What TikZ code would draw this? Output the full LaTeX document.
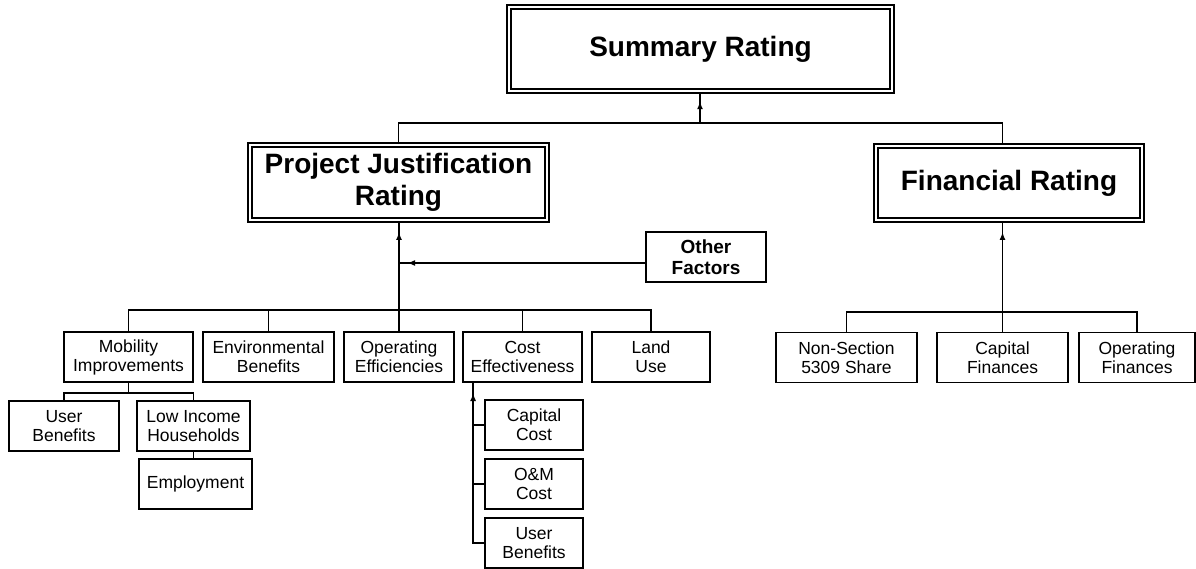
\documentclass[tikz,border=0pt]{standalone}
\usepackage{fontspec}
\setmainfont{Liberation Sans}
\usetikzlibrary{arrows.meta,decorations.markings}

\tikzset{
  rating/.style={draw, double, line width=1.8pt, double distance=2.4pt, align=center,
    inner sep=0pt, font=\fontsize{28}{32}\selectfont\bfseries},
  leaf/.style={draw, line width=1.8pt, align=center, inner sep=0pt, minimum height=50pt,
    font=\fontsize{17.5}{19}\selectfont},
  link/.style={line width=1.8pt},
  tipat/.style={postaction={decorate, decoration={markings,
    mark=at position #1 with {\arrow{Latex[length=8pt,width=6pt]}}}}},
}

\begin{document}
\begin{tikzpicture}[x=1pt, y=-1pt]
  \useasboundingbox (0,0) rectangle (1196,569);
  % ratings
  \node[rating, minimum width=383pt, minimum height=84pt] (sum) at (700.5,49) {Summary Rating};
  \node[rating, minimum width=297pt, minimum height=75pt] (pj) at (398.5,182.5) {Project Justification\\Rating};
  \node[rating, minimum width=266pt, minimum height=74pt] (fin) at (1009,183) {Financial Rating};
  \node[leaf, minimum width=120pt, font=\fontsize{19}{21}\selectfont\bfseries] (other) at (706,257) {Other\\Factors};
  % project justification criteria
  \node[leaf, minimum width=129pt] (mob) at (128.5,357) {Mobility\\Improvements};
  \node[leaf, minimum width=131pt] (env) at (268.5,357) {Environmental\\Benefits};
  \node[leaf, minimum width=110pt] (opef) at (399,357) {Operating\\Efficiencies};
  \node[leaf, minimum width=119pt] (cost) at (522.5,357) {Cost\\Effectiveness};
  \node[leaf, minimum width=118pt] (land) at (651,357) {Land\\Use};
  \node[leaf, minimum width=110pt] (usr) at (64,426) {User\\Benefits};
  \node[leaf, minimum width=113pt] (lih) at (193.5,426) {Low Income\\Households};
  \node[leaf, minimum width=113pt] (emp) at (195.5,484) {Employment};
  \node[leaf, minimum width=98pt] (capc) at (534,425) {Capital\\Cost};
  \node[leaf, minimum width=98pt] (omc) at (534,484) {O\&M\\Cost};
  \node[leaf, minimum width=98pt] (usr2) at (534,543) {User\\Benefits};
  % financial criteria
  \node[leaf, minimum width=141pt] (nsec) at (846.5,357.5) {Non-Section\\5309 Share};
  \node[leaf, minimum width=131pt] (capf) at (1002.5,357.5) {Capital\\Finances};
  \node[leaf, minimum width=116pt] (opf) at (1137,357.5) {Operating\\Finances};

  % connectors
  \coordinate (topbus) at (700,123);
  \draw[link] (pj.north) |- (topbus) -| (capf.north |- fin.north);
  \draw[link, tipat=0.7] (topbus) -- (topbus |- sum.south);
  \draw[link, tipat=0.9] (opef.north) -- (opef.north |- pj.south);
  \coordinate (ojoin) at (398,263);
  \draw[link, tipat=238pt] (other.west |- ojoin) -- (ojoin);
  \draw[link] (mob.north) -- ++(0,-21) -| (land.north);
  \draw[link] (env.north) -- ++(0,-21);
  \draw[link] (cost.north) -- ++(0,-21);
  \draw[link] (mob.south) -- ++(0,10) coordinate (mbus);
  \draw[link] (usr.north) |- (mbus) -| (lih.north);
  \draw[link] (lih.south) -- (lih.south |- emp.north);
  \coordinate (cbus) at ([xshift=11pt]cost.south west);
  \draw[link, tipat=161pt] (usr2.west) -| (cbus);
  \draw[link] (capc.west) -- (capc.west -| cbus);
  \draw[link] (omc.west) -- (omc.west -| cbus);
  \draw[link] (nsec.north) -- ++(0,-20) -| (opf.north);
  \draw[link, tipat=0.9] (capf.north) -- (capf.north |- fin.south);
\end{tikzpicture}
\end{document}
